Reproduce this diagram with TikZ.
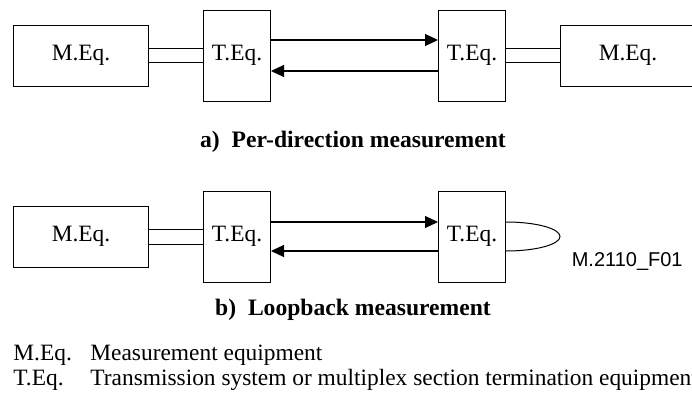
\documentclass[tikz,border=0pt]{standalone}
\usepackage{fontspec}
\setmainfont{Liberation Serif}
\newfontfamily\tagfont{Liberation Sans}
\usetikzlibrary{positioning,arrows.meta}
\tikzset{
	meqbox/.style={draw, line width=0.5pt, inner sep=0pt, minimum width=67.5pt, minimum height=30.5pt},
	teqbox/.style={draw, line width=0.5pt, inner sep=0pt, minimum width=33.5pt, minimum height=45.5pt},
	wire/.style={line width=0.5pt},
	sig/.style={line width=0.6pt, -{Triangle[length=6.5pt,width=6pt]}},
	caption/.style={inner sep=0pt, anchor=base, font=\fontsize{11.8}{14}\selectfont\bfseries},
	legend/.style={inner sep=0pt, anchor=base west}
}

\begin{document}
\begin{tikzpicture}[font=\fontsize{11.7}{14}\selectfont]
	\useasboundingbox (0,0) rectangle (346pt,-198pt);
	
	% a) per-direction
	\node (meqA) [meqbox] at (40.5pt,-27.75pt) {M.Eq.};
	\node (teqA) [teqbox, right = 27pt of meqA] {T.Eq.};
	\node (teqB) [teqbox, right = 83.5pt of teqA] {T.Eq.};
	\node (meqB) [meqbox, right = 27pt of teqB] {M.Eq.};
	
	\draw[wire] ([yshift=3.5pt]meqA.east) -- ([yshift=3.5pt]teqA.west);
	\draw[wire] ([yshift=-3.5pt]meqA.east) -- ([yshift=-3.5pt]teqA.west);
	\draw[wire] ([yshift=3.5pt]teqB.east) -- ([yshift=3.5pt]meqB.west);
	\draw[wire] ([yshift=-3.5pt]teqB.east) -- ([yshift=-3.5pt]meqB.west);
	\draw[sig] ([yshift=7.75pt]teqA.east) -- ([yshift=7.75pt]teqB.west);
	\draw[sig] ([yshift=-7.75pt]teqB.west) -- ([yshift=-7.75pt]teqA.east);
	
	\node (capA) [caption] at (176.5pt,-73.5pt) {a)\ \ Per-direction measurement};
	
	% b) loopback
	\node (meqC) [meqbox] at (40.5pt,-118.25pt) {M.Eq.};
	\node (teqC) [teqbox, right = 27pt of meqC] {T.Eq.};
	\node (teqD) [teqbox, right = 83.5pt of teqC] {T.Eq.};
	
	\draw[wire] ([yshift=3.75pt]meqC.east) -- ([yshift=3.75pt]teqC.west);
	\draw[wire] ([yshift=-3.75pt]meqC.east) -- ([yshift=-3.75pt]teqC.west);
	\draw[sig] ([yshift=7.25pt]teqC.east) -- ([yshift=7.25pt]teqD.west);
	\draw[sig] ([yshift=-7.25pt]teqD.west) -- ([yshift=-7.25pt]teqC.east);
	\draw[wire] ([yshift=7.25pt]teqD.east) arc[start angle=90, end angle=-90, x radius=27pt, y radius=7.25pt];
	
	\node (figtag) [inner sep=0pt, anchor=base east, font=\tagfont\fontsize{10}{12}\selectfont] at (341.5pt,-133pt) {M.2110\_F01};
	\node (capB) [caption] at (176.5pt,-157.5pt) {b)\ \ Loopback measurement};
	
	% legend
	\node (keyM) [legend] at (6.5pt,-180pt) {M.Eq.};
	\node (txtM) [legend] at (45pt,-180pt) {Measurement equipment};
	\node (keyT) [legend] at (6.5pt,-192.5pt) {T.Eq.};
	\node (txtT) [legend] at (45pt,-192.5pt) {Transmission system or multiplex section termination equipment};
\end{tikzpicture}
\end{document}
